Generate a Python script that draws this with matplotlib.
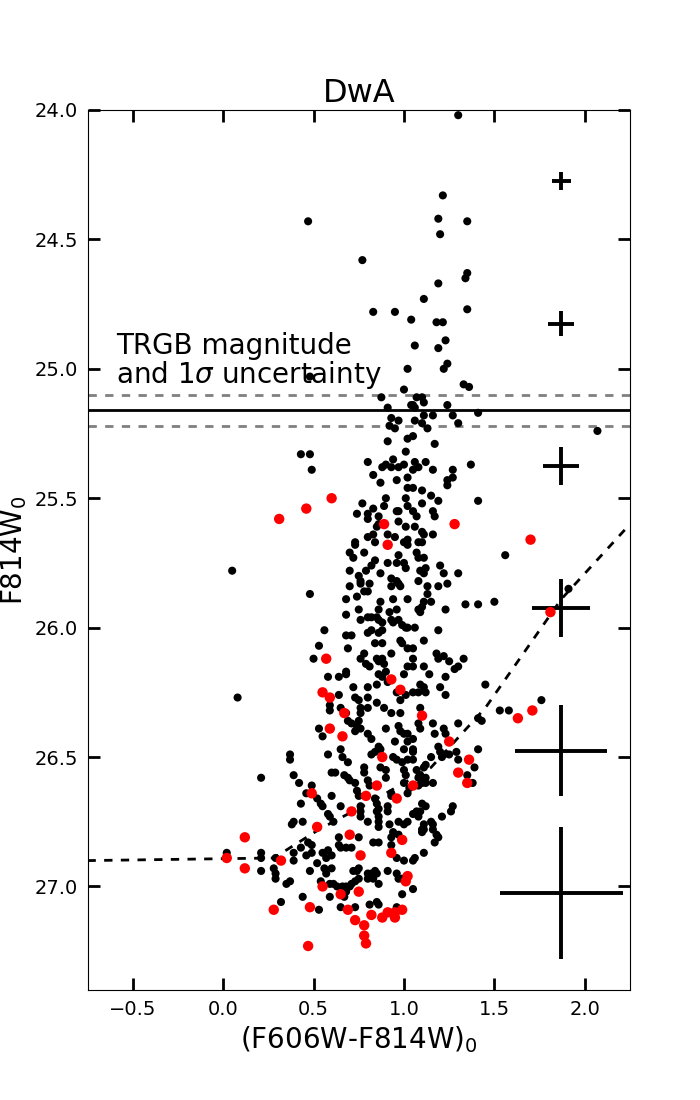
import matplotlib
matplotlib.use("Agg")
import matplotlib.pyplot as plt

# CMD of DwA: (colour, magnitude) pairs
black_stars = [
    (1.30, 24.02), (1.215, 24.33), (0.47, 24.43), (1.19, 24.42), (1.35, 24.43), (1.20, 24.48),
    (0.77, 24.58), (1.35, 24.63), (1.34, 24.65), (1.19, 24.67), (1.11, 24.73), (0.83, 24.78),
    (0.95, 24.78), (1.35, 24.77), (1.04, 24.81), (1.18, 24.82), (1.215, 24.82), (1.23, 24.89),
    (1.06, 24.91), (1.19, 24.92), (1.24, 24.98), (1.22, 25.00), (1.02, 25.00), (0.48, 25.03),
    (1.33, 25.06), (1.36, 25.07), (1.00, 25.08),
    # 25.1 - 25.6
    (0.875, 25.11), (0.91, 25.15), (1.04, 25.14), (0.93, 25.19), (0.97, 25.20), (0.92, 25.22),
    (0.95, 25.23), (0.43, 25.33), (0.48, 25.33), (0.49, 25.39), (0.91, 25.28), (1.02, 25.27),
    (1.01, 25.32), (0.80, 25.36), (0.90, 25.37), (0.88, 25.38), (0.94, 25.35), (0.93, 25.38),
    (0.97, 25.38), (1.00, 25.37), (0.83, 25.41), (0.87, 25.44), (0.96, 25.43), (1.02, 25.42),
    (1.02, 25.46), (0.90, 25.50), (0.77, 25.52), (0.83, 25.54), (0.89, 25.53), (0.74, 25.56),
    (0.80, 25.56), (0.80, 25.58), (0.86, 25.57), (0.96, 25.55), (0.97, 25.55), (0.97, 25.59),
    (1.01, 25.50), (1.02, 25.53), (1.01, 25.61), (0.86, 25.60), (0.85, 25.61),
    (1.07, 25.11), (1.10, 25.11), (1.05, 25.14), (1.11, 25.13), (1.24, 25.14), (1.06, 25.15),
    (1.11, 25.18), (1.16, 25.18), (1.27, 25.18), (1.41, 25.17), (1.06, 25.20), (1.10, 25.21),
    (1.30, 25.21), (1.13, 25.23), (1.05, 25.26), (1.17, 25.29), (1.37, 25.37), (1.06, 25.36),
    (1.12, 25.36), (1.08, 25.38), (1.05, 25.39), (1.16, 25.39), (1.27, 25.39), (1.24, 25.43),
    (1.27, 25.42), (1.24, 25.45), (1.05, 25.46), (1.10, 25.47), (1.15, 25.49), (1.19, 25.51),
    (1.10, 25.52), (1.41, 25.51), (1.16, 25.55), (1.17, 25.57), (1.07, 25.57), (1.05, 25.55),
    (1.06, 25.61), (2.07, 25.24),
    # 25.6 - 26.2
    (0.48, 25.87), (0.56, 26.01), (0.53, 26.07), (0.50, 26.12), (0.58, 26.19), (0.64, 26.19),
    (0.68, 26.17), (0.68, 26.18), (0.69, 26.08), (0.68, 26.03), (0.71, 26.03), (0.68, 25.95),
    (0.68, 25.89), (0.74, 25.88), (0.75, 25.93), (0.76, 25.97), (0.70, 25.84), (0.73, 25.67),
    (0.73, 25.68), (0.70, 25.71), (0.72, 25.73), (0.78, 25.71), (0.70, 25.78), (0.75, 25.80),
    (0.76, 25.82), (0.76, 25.83), (0.79, 25.78), (0.82, 25.76), (0.84, 25.74), (0.81, 25.83),
    (0.78, 25.86), (0.80, 25.86), (0.87, 25.79), (0.80, 25.65), (0.83, 25.64), (0.84, 25.67),
    (0.91, 25.64), (0.95, 25.65), (0.97, 25.72), (0.91, 25.75), (0.96, 25.75), (1.00, 25.67),
    (1.02, 25.68), (1.02, 25.66), (1.00, 25.75), (1.01, 25.77), (0.93, 25.81), (0.96, 25.82),
    (0.97, 25.83), (0.93, 25.84), (0.98, 25.84), (1.02, 25.89), (0.87, 25.90), (0.86, 25.93),
    (0.85, 25.96), (0.94, 25.89), (0.96, 25.93), (0.92, 25.94), (0.80, 25.96), (0.82, 25.96),
    (0.86, 25.97), (0.88, 25.98), (0.93, 25.97), (0.94, 25.98), (0.97, 25.97), (0.99, 25.99),
    (1.01, 26.00), (1.02, 26.00), (0.88, 26.01), (0.86, 26.02), (0.82, 26.01), (0.80, 26.02),
    (0.98, 26.05), (0.99, 26.06), (1.02, 26.08), (0.84, 26.06), (0.88, 26.06), (0.93, 26.10),
    (0.88, 26.12), (0.78, 26.10), (0.76, 26.12), (0.79, 26.14), (0.81, 26.15), (0.85, 26.12),
    (0.86, 26.13), (0.89, 26.14), (1.02, 26.15), (0.86, 26.18), (0.88, 26.19), (0.90, 26.17),
    (1.00, 26.18),
    (1.10, 25.63), (1.11, 25.64), (1.16, 25.64), (1.08, 25.67), (1.10, 25.67), (1.56, 25.72),
    (1.07, 25.71), (1.08, 25.73), (1.11, 25.73), (1.20, 25.76), (1.22, 25.79), (1.09, 25.78),
    (1.11, 25.79), (1.12, 25.77), (1.30, 25.79), (1.08, 25.82), (1.13, 25.84), (1.19, 25.84),
    (1.24, 25.83), (1.13, 25.87), (1.15, 25.90), (1.11, 25.90), (1.10, 25.92), (1.08, 25.93),
    (1.09, 25.94), (1.34, 25.91), (1.41, 25.91), (1.50, 25.90), (1.23, 25.93), (1.06, 26.00),
    (1.19, 26.01), (1.11, 26.05), (1.05, 26.08), (1.05, 26.12), (1.05, 26.15), (1.18, 26.10),
    (1.19, 26.12), (1.22, 26.11), (1.25, 26.13), (1.33, 26.12), (1.28, 26.16), (1.30, 26.15),
    (1.11, 26.15), (1.14, 26.18), (1.23, 26.19), (0.05, 25.78), (1.91, 25.85),
    # 26.2 - 26.8
    (0.64, 26.26), (0.59, 26.30), (0.59, 26.32), (0.65, 26.31), (0.68, 26.33), (0.72, 26.23),
    (0.73, 26.27), (0.75, 26.28), (0.76, 26.31), (0.76, 26.33), (0.75, 26.36), (0.80, 26.23),
    (0.85, 26.22), (0.80, 26.27), (0.80, 26.31), (0.85, 26.29), (0.89, 26.31), (0.93, 26.33),
    (0.98, 26.33), (0.91, 26.21), (0.96, 26.25), (0.98, 26.28), (1.01, 26.26), (0.69, 26.36),
    (0.71, 26.37), (0.74, 26.38), (0.76, 26.39), (0.53, 26.39), (0.55, 26.42), (0.73, 26.40),
    (0.80, 26.41), (0.82, 26.43), (0.90, 26.39), (0.97, 26.38), (0.98, 26.40), (1.00, 26.41),
    (1.02, 26.41), (0.95, 26.44), (1.02, 26.44), (0.86, 26.46), (0.87, 26.47), (0.84, 26.48),
    (0.82, 26.49), (1.00, 26.47), (0.58, 26.49), (0.65, 26.47), (0.66, 26.50), (0.69, 26.52),
    (0.37, 26.49), (0.37, 26.51), (0.94, 26.50), (0.96, 26.51), (0.99, 26.52), (1.02, 26.51),
    (0.78, 26.54), (0.78, 26.56), (0.87, 26.54), (0.90, 26.55), (0.21, 26.58), (0.39, 26.57),
    (0.60, 26.56), (0.62, 26.56), (0.67, 26.57), (0.69, 26.58), (0.70, 26.59), (0.73, 26.60),
    (0.80, 26.59), (0.81, 26.61), (0.90, 26.58), (1.00, 26.55), (1.01, 26.57), (1.00, 26.60),
    (0.42, 26.60), (0.49, 26.61), (0.46, 26.64), (0.60, 26.65), (0.93, 26.64), (0.93, 26.65),
    (1.02, 26.64), (1.03, 26.62), (0.74, 26.63), (0.75, 26.65), (0.84, 26.66), (0.85, 26.68),
    (0.86, 26.70), (0.85, 26.71), (0.86, 26.73), (0.86, 26.75), (0.86, 26.77), (0.52, 26.66),
    (0.54, 26.68), (0.55, 26.69), (0.43, 26.68), (0.65, 26.69), (0.58, 26.72), (0.59, 26.73),
    (0.61, 26.75), (0.76, 26.69), (0.76, 26.71), (0.76, 26.73), (0.80, 26.75), (0.91, 26.69),
    (0.91, 26.71), (0.92, 26.76), (0.97, 26.75), (1.00, 26.76), (1.02, 26.75), (0.39, 26.75),
    (0.38, 26.76), (0.44, 26.75), (0.08, 26.27),
    (1.09, 26.22), (1.11, 26.23), (1.12, 26.25), (1.08, 26.25), (1.05, 26.25), (1.20, 26.23),
    (1.23, 26.26), (1.45, 26.22), (1.76, 26.28), (1.53, 26.32), (1.58, 26.32), (1.09, 26.31),
    (1.08, 26.37), (1.09, 26.39), (1.16, 26.37), (1.22, 26.39), (1.23, 26.41), (1.17, 26.41),
    (1.30, 26.37), (1.43, 26.36), (1.41, 26.35), (1.05, 26.43), (1.05, 26.47), (1.05, 26.48),
    (1.19, 26.46), (1.20, 26.48), (1.22, 26.49), (1.21, 26.50), (1.29, 26.48), (1.30, 26.51),
    (1.25, 26.49), (1.41, 26.47), (1.15, 26.50), (1.12, 26.53), (1.11, 26.54), (1.05, 26.51),
    (1.39, 26.54), (1.07, 26.55), (1.09, 26.57), (1.08, 26.58), (1.35, 26.57), (1.38, 26.60),
    (1.12, 26.58), (1.12, 26.60), (1.16, 26.60), (1.10, 26.60), (1.08, 26.61), (1.10, 26.68),
    (1.12, 26.69), (1.09, 26.71), (1.07, 26.71), (1.08, 26.73), (1.05, 26.72), (1.27, 26.69),
    (1.26, 26.71), (1.21, 26.73), (1.15, 26.75), (1.16, 26.76), (1.11, 26.76), (1.11, 26.78),
    (1.10, 26.78), (1.16, 26.78),
    # faint end
    (0.02, 26.87), (0.21, 26.87), (0.21, 26.89), (0.21, 26.94), (0.29, 26.89), (0.28, 26.93),
    (0.29, 26.95), (0.29, 26.97), (0.39, 26.87), (0.39, 26.90), (0.43, 26.85), (0.47, 26.83),
    (0.49, 26.84), (0.49, 26.87), (0.46, 26.88), (0.35, 26.99), (0.37, 26.98), (0.32, 27.06),
    (0.44, 27.04), (0.48, 26.94), (0.53, 27.09), (0.52, 26.91), (0.55, 26.87), (0.58, 26.86),
    (0.60, 26.88), (0.57, 26.89), (0.56, 26.93), (0.57, 26.95), (0.60, 26.93), (0.54, 26.98),
    (0.59, 26.99), (0.61, 26.99), (0.63, 27.00), (0.59, 27.04), (0.64, 26.81), (0.64, 26.84),
    (0.65, 26.85), (0.68, 26.85), (0.71, 26.85), (0.75, 26.81), (0.66, 27.00), (0.68, 27.00),
    (0.70, 27.00), (0.71, 26.99), (0.73, 26.98), (0.75, 26.97), (0.68, 27.02), (0.67, 27.04),
    (0.72, 26.94), (0.74, 26.94), (0.75, 26.93), (0.80, 26.95), (0.82, 26.95), (0.84, 26.94),
    (0.73, 27.08), (0.65, 27.08), (0.81, 27.07), (0.85, 27.06), (0.86, 27.07), (0.80, 26.97),
    (0.83, 26.97), (0.85, 26.95), (0.86, 26.99), (0.83, 26.83), (0.91, 26.94), (0.93, 26.84),
    (0.93, 26.81), (0.94, 26.79), (0.97, 26.80), (0.96, 26.89), (1.00, 26.90), (0.96, 26.95),
    (0.97, 26.97), (0.99, 26.97), (0.99, 27.03), (0.96, 27.08), (0.86, 26.83),
    (1.10, 26.79), (1.18, 26.80), (1.19, 26.81), (1.17, 26.83), (1.11, 26.87), (1.06, 26.89),
    (1.05, 26.90), (1.05, 27.01),
]

red_stars = [
    (0.31, 25.58), (0.46, 25.54), (0.60, 25.50), (0.89, 25.60), (1.28, 25.60),
    (0.57, 26.12), (0.91, 25.68), (0.93, 26.20), (1.70, 25.66), (1.81, 25.94),
    (0.55, 26.25), (0.59, 26.27), (0.67, 26.33), (0.98, 26.24), (0.59, 26.39),
    (0.66, 26.42), (0.88, 26.50), (0.49, 26.64), (0.85, 26.61), (0.79, 26.65),
    (0.96, 26.66), (0.71, 26.71), (0.52, 26.77),
    (1.63, 26.35), (1.71, 26.32), (1.10, 26.34), (1.25, 26.44), (1.36, 26.51),
    (1.30, 26.56), (1.35, 26.60), (1.05, 26.61),
    (0.02, 26.89), (0.12, 26.81), (0.12, 26.93), (0.32, 26.90), (0.28, 27.09),
    (0.48, 27.08), (0.47, 27.23), (0.55, 27.00), (0.65, 27.03), (0.70, 26.80),
    (0.76, 26.88), (0.75, 27.02), (0.69, 27.09), (0.73, 27.13), (0.78, 27.15),
    (0.78, 27.19), (0.79, 27.22), (0.82, 27.11), (0.88, 27.12), (0.91, 27.10),
    (0.95, 27.12), (0.95, 27.10), (0.99, 27.09), (0.93, 26.87), (0.99, 26.82),
    (1.01, 26.98), (1.02, 26.96),
]

# TRGB and its 1 sigma uncertainty
trgb = 25.16
trgb_err = 0.06

# completeness limit
comp_color = [-0.75, 0.28, 0.53, 0.85, 1.15, 1.45, 1.87, 2.25]
comp_mag = [26.90, 26.89, 26.78, 26.66, 26.54, 26.31, 25.89, 25.60]

# typical photometric errors
err_color = [1.87, 1.87, 1.87, 1.87, 1.87, 1.87]
err_mag = [24.275, 24.825, 25.375, 25.925, 26.475, 27.025]
err_dcolor = [0.053, 0.072, 0.10, 0.16, 0.255, 0.34]
err_dmag = [0.036, 0.050, 0.072, 0.112, 0.177, 0.256]

plt.rcParams['lines.scale_dashes'] = False

fig, ax = plt.subplots(figsize=(7, 11), dpi=100)
fig.subplots_adjust(left=0.125, right=0.9, bottom=0.1, top=0.9)

bx, by = zip(*black_stars)
rx, ry = zip(*red_stars)
ax.scatter(bx, by, s=34, c='black', edgecolors='none', zorder=3)
ax.scatter(rx, ry, s=56, c='red', edgecolors='none', zorder=4)

ax.axhline(trgb, color='black', lw=2)
ax.axhline(trgb - trgb_err, color='gray', lw=2, ls=(0, (6, 6)))
ax.axhline(trgb + trgb_err, color='gray', lw=2, ls=(0, (6, 6)))
ax.text(-0.59, 25.085, 'TRGB magnitude\nand 1$\\sigma$ uncertainty', fontsize=20,
        ha='left', va='bottom', linespacing=0.95)

ax.plot(comp_color, comp_mag, color='black', lw=2, ls=(0, (6, 6)))

ax.errorbar(err_color, err_mag, xerr=err_dcolor, yerr=err_dmag, fmt='none',
            ecolor='black', elinewidth=2.8, capsize=0)

ax.set_xlim(-0.75, 2.25)
ax.set_ylim(27.4, 24.0)
ax.set_xticks([-0.5, 0.0, 0.5, 1.0, 1.5, 2.0])
ax.set_yticks([24.0, 24.5, 25.0, 25.5, 26.0, 26.5, 27.0])
ax.tick_params(direction='in', top=True, right=True, length=8.5, width=2, labelsize=14, pad=7)

ax.set_title('DwA', fontsize=23)
ax.set_xlabel('(F606W-F814W)$_0$', fontsize=20)
ax.set_ylabel('F814W$_0$', fontsize=20)

plt.savefig('out.png')
